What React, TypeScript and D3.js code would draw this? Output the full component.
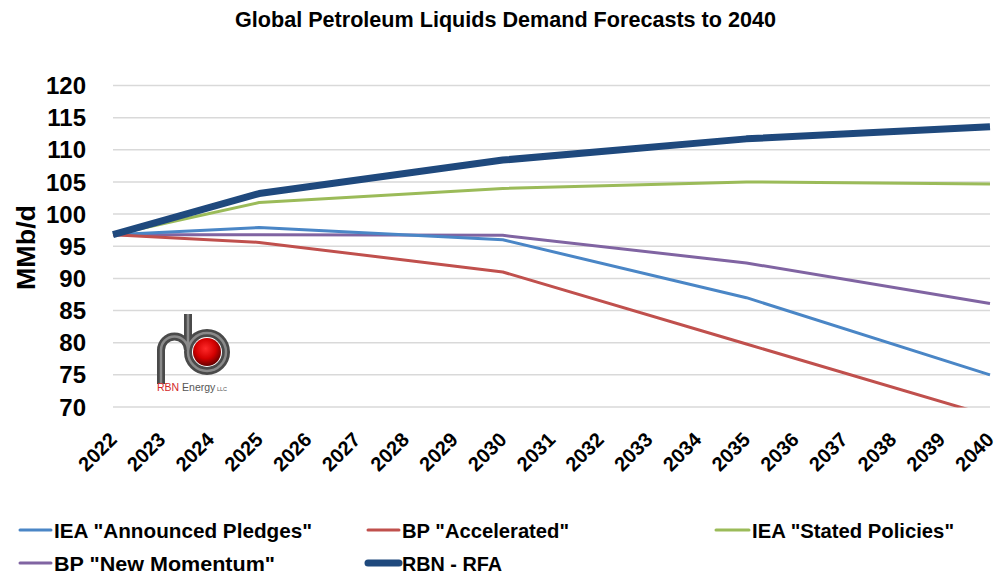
import React from "react";
import * as d3 from "d3";

const years = d3.range(2022, 2041).map(String);
const yTicks = [70, 75, 80, 85, 90, 95, 100, 105, 110, 115, 120];
const keyYears = [2022, 2025, 2030, 2035, 2040];

const iePledges = [96.8, 97.9, 96.0, 87.0, 75.0];
const bpAccelerated = [96.8, 95.6, 91.0, 79.8, 68.6];
const ieaStated = [96.8, 101.8, 104.0, 105.0, 104.7];
const bpMomentum = [96.8, 96.8, 96.7, 92.4, 86.1];
const rbnRfa = [96.8, 103.2, 108.4, 111.7, 113.6];

const seriesNames = [
  'IEA "Announced Pledges"',
  'BP "Accelerated"',
  'IEA "Stated Policies"',
  'BP "New Momentum"',
  "RBN - RFA",
];
const seriesColors = ["#4a86c6", "#c0504d", "#9bbb59", "#8064a2", "#1f497d"];
const seriesValues = [iePledges, bpAccelerated, ieaStated, bpMomentum, rbnRfa];
const seriesWidths = [3, 3, 3, 3, 7];
// draw order: thin series first, RBN on top
const drawOrder = [2, 3, 0, 1, 4];

const W = 997;
const H = 576;
const x = d3.scaleLinear().domain([2022, 2040]).range([113, 990]);
const y = d3.scaleLinear().domain([70, 120]).range([407, 85.5]);

const legendPos = [
  { sx: 18, ly: 530, tx: 54, tw: 258 },
  { sx: 366, ly: 530, tx: 402, tw: 167 },
  { sx: 714, ly: 530, tx: 752, tw: 202 },
  { sx: 18, ly: 563, tx: 54, tw: 221 },
  { sx: 366, ly: 563, tx: 402, tw: 100 },
];

export default function App() {
  const line = d3
    .line<number>()
    .x((_, i) => x(keyYears[i]))
    .y((d) => y(d));
  const font = "'Liberation Sans', Arial, sans-serif";
  return (
    <svg
      width={W}
      height={H}
      style={{ position: "absolute", left: 0, top: 0, background: "#fff" }}
    >
      <defs>
        <clipPath id="plotClip">
          <rect x={100} y={60} width={900} height={y(70) - 60 + 0.5} />
        </clipPath>
        <radialGradient id="ball" cx="45%" cy="38%" r="65%">
          <stop offset="0%" stopColor="#ff2a2a" />
          <stop offset="55%" stopColor="#d40000" />
          <stop offset="100%" stopColor="#5a0000" />
        </radialGradient>
      </defs>
      <text
        x={235}
        y={27}
        fontFamily={font}
        fontWeight="bold"
        fontSize={21.5}
        textLength={541}
        lengthAdjust="spacingAndGlyphs"
        fill="#000"
      >
        Global Petroleum Liquids Demand Forecasts to 2040
      </text>

      {yTicks.map((t) => (
        <g key={t}>
          <line
            x1={x(2022)}
            x2={x(2040)}
            y1={y(t)}
            y2={y(t)}
            stroke="#d9d9d9"
            strokeWidth={1.5}
          />
          <text
            x={86}
            y={y(t)}
            dy="0.36em"
            textAnchor="end"
            fontFamily={font}
            fontWeight="bold"
            fontSize={24}
            fill="#000"
          >
            {t}
          </text>
        </g>
      ))}

      <text
        transform={`translate(35,247.5) rotate(-90)`}
        textAnchor="middle"
        fontFamily={font}
        fontWeight="bold"
        fontSize={25}
        textLength={85}
        lengthAdjust="spacingAndGlyphs"
        fill="#000"
      >
        MMb/d
      </text>

      {years.map((yr) => (
        <text
          key={yr}
          transform={`translate(${x(+yr) + 5},441) rotate(-45)`}
          textAnchor="end"
          fontFamily={font}
          fontWeight="bold"
          fontSize={20}
          fill="#000"
        >
          {yr}
        </text>
      ))}

      {/* logo */}
      <g>
        <path
          d="M161,384 L161,350 A13.5,13.5 0 0 1 188,350 L188,314"
          fill="none"
          stroke="#4a4a4a"
          strokeWidth={8}
        />
        <circle cx={207} cy={352} r={14} fill="url(#ball)" />
        <circle cx={207} cy={352} r={19} fill="none" stroke="#4a4a4a" strokeWidth={8} />
        <path
          d="M161,384 L161,350 A13.5,13.5 0 0 1 188,350 L188,314"
          fill="none"
          stroke="#8a8a8a"
          strokeWidth={2.5}
        />
        <circle cx={207} cy={352} r={19} fill="none" stroke="#8a8a8a" strokeWidth={2.5} />
        <text x={157} y={391} fontFamily={font} fontSize={10.5}>
          <tspan fill="#d42a2a">RBN</tspan>
          <tspan fill="#555"> Energy</tspan>
          <tspan fill="#555" fontSize={5.5}> LLC</tspan>
        </text>
      </g>

      <g clipPath="url(#plotClip)">
        {drawOrder.map((i) => (
          <path
            key={i}
            d={line(seriesValues[i]) || ""}
            fill="none"
            stroke={seriesColors[i]}
            strokeWidth={seriesWidths[i]}
            strokeLinejoin="round"
          />
        ))}
      </g>

      {seriesNames.map((n, i) => {
        const p = legendPos[i];
        return (
          <g key={n}>
            <line
              x1={p.sx + 2}
              x2={p.tx - 3}
              y1={p.ly}
              y2={p.ly}
              stroke={seriesColors[i]}
              strokeWidth={i === 4 ? 7 : 3}
              strokeLinecap="round"
            />
            <text
              x={p.tx}
              y={p.ly}
              dy="0.36em"
              fontFamily="'Liberation Sans Narrow', 'Liberation Sans', Arial, sans-serif"
              fontWeight="bold"
              fontSize={21}
              textLength={p.tw}
              lengthAdjust="spacingAndGlyphs"
              fill="#000"
            >
              {n}
            </text>
          </g>
        );
      })}
    </svg>
  );
}
